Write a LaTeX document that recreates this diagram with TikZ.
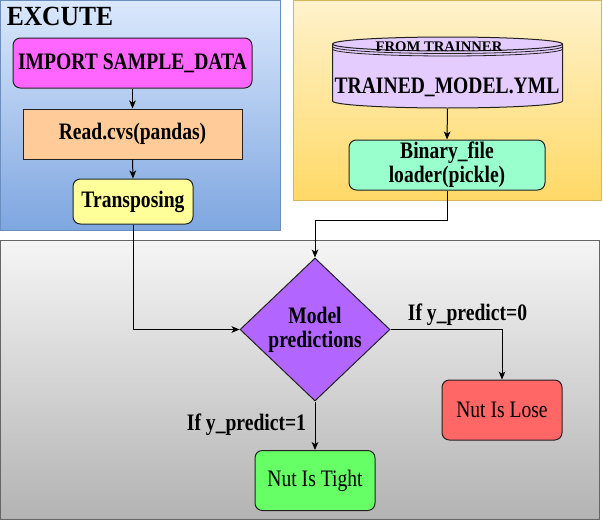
\documentclass[tikz,border=0pt]{standalone}
\usepackage{fontspec}
\setmainfont{Liberation Serif}[FakeStretch=0.83]
\newfontfamily\plainfont{Liberation Serif}
\newfontfamily\exfont{Liberation Serif}[FakeStretch=0.92]
\usetikzlibrary{arrows.meta,shapes.geometric}
\definecolor{blueT}{HTML}{DAE8FC}
\definecolor{blueB}{HTML}{7EA6E0}
\definecolor{blueD}{HTML}{6C8EBF}
\definecolor{orT}{HTML}{FFF2CC}
\definecolor{orB}{HTML}{FFD966}
\definecolor{orD}{HTML}{D6B656}
\definecolor{grT}{HTML}{F5F5F5}
\definecolor{grB}{HTML}{B3B3B3}
\definecolor{grD}{HTML}{666666}
\definecolor{cImp}{HTML}{FF66FF}
\definecolor{cRead}{HTML}{FFCC99}
\definecolor{cTrans}{HTML}{FFFF99}
\definecolor{cCyl}{HTML}{E5CCFF}
\definecolor{cBin}{HTML}{99FFCC}
\definecolor{cDia}{HTML}{B266FF}
\definecolor{cLose}{HTML}{FF6666}
\definecolor{cTight}{HTML}{66FF66}
\definecolor{edge}{HTML}{222222}
\begin{document}
\begin{tikzpicture}[x=0.75pt,y=-0.75pt,
  conn/.style={line width=0.75pt, draw=black, -{Stealth[length=6pt,width=5pt,inset=1.6pt]}},
  box/.style={draw=edge, line width=0.75pt, inner sep=0pt, align=center,
    font=\fontsize{17.7pt}{18pt}\selectfont\bfseries},
  rbox/.style={box, rounded corners=5.5pt},
  lbl/.style={inner sep=0pt, font=\fontsize{17.7pt}{18pt}\selectfont\bfseries},
  rtext/.style={font=\fontsize{17.7pt}{18pt}\selectfont}
]
\useasboundingbox (0,0) rectangle (603,521);

% containers
\draw[top color=blueT, bottom color=blueB, draw=blueD, line width=0.75pt] (0.5,0.5) rectangle (280.5,230.5);
\draw[top color=orT, bottom color=orB, draw=orD, line width=0.75pt] (293.5,0.5) rectangle (601.5,200.5);
\draw[top color=grT, bottom color=grB, draw=grD, line width=0.75pt] (0.5,240.5) rectangle (599.5,519.5);

\node[anchor=base west, inner sep=0pt, font=\exfont\fontsize{20.8pt}{22pt}\selectfont\bfseries] (excute) at (6.5,25.3) {EXCUTE};

% left column
\node[rbox, fill=cImp, minimum width=179.25pt, minimum height=37.5pt] (imp) at (132.5,63) {IMPORT SAMPLE\_DATA};
\node[box, fill=cRead, minimum width=164.25pt, minimum height=37.5pt] (read) at (132.5,134) {Read.cvs(pandas)};
\node[rbox, fill=cTrans, minimum width=90pt, minimum height=33.75pt] (trans) at (133,201.5) {Transposing};

% cylinder
\node[inner sep=0pt, minimum width=172.5pt, minimum height=53.25pt] (cyl) at (447.5,73) {};
\draw[fill=cCyl, draw=edge, line width=0.75pt]
  (332.5,44) arc[start angle=180, end angle=0, x radius=86.25pt, y radius=5.25pt]
  -- (562.5,101) arc[start angle=0, end angle=-180, x radius=86.25pt, y radius=5.25pt] -- cycle;
\draw[draw=edge, line width=0.75pt] (332.5,44) arc[start angle=180, end angle=360, x radius=86.25pt, y radius=5.25pt];
\draw[draw=edge, line width=0.6pt] (332.5,46.5) arc[start angle=180, end angle=360, x radius=86.25pt, y radius=5.25pt];
\draw[draw=edge, line width=0.6pt] (332.5,49) arc[start angle=180, end angle=360, x radius=86.25pt, y radius=5.25pt];
\node[inner sep=0pt, font=\plainfont\fontsize{11pt}{12pt}\selectfont\bfseries] (from) at (439,47) {FROM TRAINNER};
\node[lbl] (tm) at (447,87) {TRAINED\_MODEL.YML};

\node[rbox, fill=cBin, minimum width=147pt, minimum height=37.5pt] (bin) at (447,165) {Binary\_file\\loader(pickle)};

% decision
\node[draw=edge, line width=0.75pt, diamond, fill=cDia, inner sep=0pt, minimum width=112.5pt, minimum height=107.25pt, align=center, font=\fontsize{17.7pt}{18pt}\selectfont\bfseries] (dia) at (315,329.5) {Model\\predictions};

\node[rbox, fill=cLose, minimum width=90pt, minimum height=45pt, rtext] (lose) at (502,410) {Nut Is Lose};
\node[rbox, fill=cTight, minimum width=90pt, minimum height=45pt, rtext] (tight) at (315,480.5) {Nut Is Tight};

\node[lbl] (l0) at (467.5,315) {If y\_predict=0};
\node[lbl] (l1) at (246.5,425) {If y\_predict=1};

% connectors
\draw[conn] (imp.south) -- (read.north);
\draw[conn] (read.south) -- (trans.north);
\draw[conn] (trans.south) |- (dia.west);
\draw[conn] (cyl.south) -- (bin.north);
\draw[conn] (bin.south) -- ++(0,30) -| (dia.north);
\draw[conn] (dia.east) -| (lose.north);
\draw[conn] (dia.south) -- (tight.north);
\end{tikzpicture}
\end{document}
